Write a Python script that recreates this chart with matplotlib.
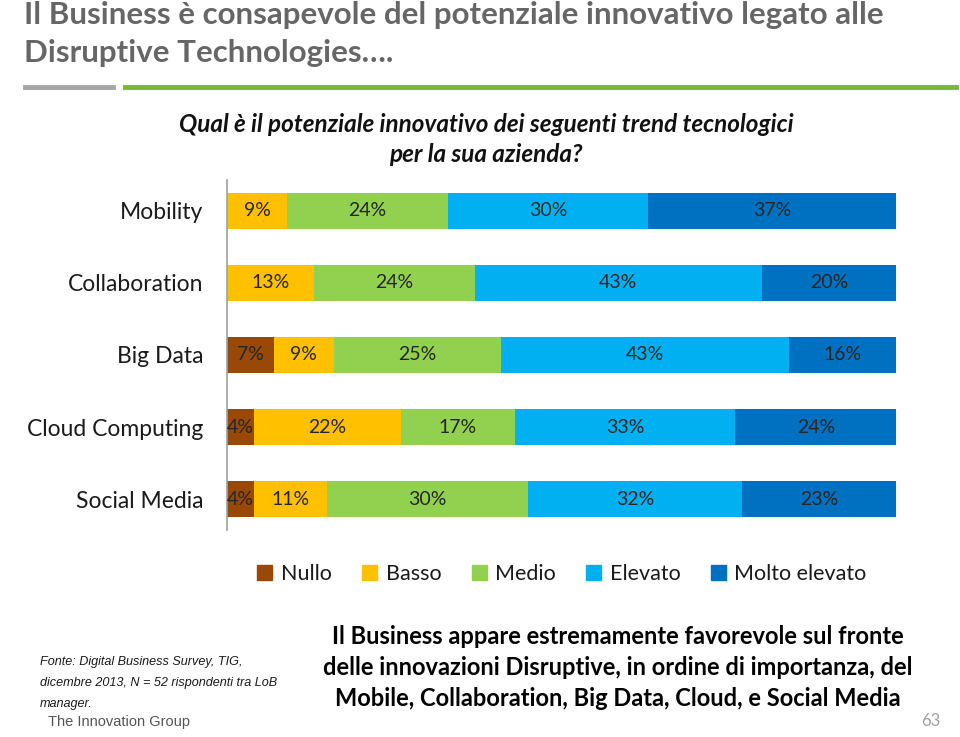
import matplotlib
matplotlib.use("Agg")
import matplotlib.pyplot as plt
import numpy as np
from matplotlib.patches import Rectangle
from matplotlib.lines import Line2D

# ============ 数据 ============
categories = ["Mobility", "Collaboration", "Big Data", "Cloud Computing", "Social Media"]
levels = ["Nullo", "Basso", "Medio", "Elevato", "Molto elevato"]
nullo = [0, 0, 7, 4, 4]
basso = [9, 13, 9, 22, 11]
medio = [24, 24, 25, 17, 30]
elevato = [30, 43, 43, 33, 32]
molto = [37, 20, 16, 24, 23]
colors = ["#984807", "#FFC000", "#92D050", "#00B0F0", "#0070C0"]

FONT = ["Lato", "DejaVu Sans"]
plt.rcParams["font.family"] = FONT

W, H = 960, 737
fig = plt.figure(figsize=(W / 100, H / 100), dpi=100)


def fx(px):
    return px / W


def fy(py):
    return 1 - py / H


# ============ 标题 ============
fig.text(fx(24), fy(15), "Il Business è consapevole del potenziale innovativo legato alle",
         fontsize=22.5, fontweight="bold", color="#666666", va="center", ha="left")
fig.text(fx(24), fy(53), "Disruptive Technologies….",
         fontsize=22.5, fontweight="bold", color="#666666", va="center", ha="left")
fig.add_artist(Line2D([fx(25), fx(113)], [fy(87), fy(87)], color="#A6A6A6", lw=3.5))
fig.add_artist(Line2D([fx(125), fx(956)], [fy(87), fy(87)], color="#7AB929", lw=3.5))

fig.text(fx(486), fy(124), "Qual è il potenziale innovativo dei seguenti trend tecnologici",
         fontsize=17.5, fontweight="bold", style="italic", color="#111111", ha="center", va="center")
fig.text(fx(486), fy(155), "per la sua azienda?",
         fontsize=17.5, fontweight="bold", style="italic", color="#111111", ha="center", va="center")

# ============ 堆叠条形图 ============
ax = fig.add_axes([fx(227), fy(530), fx(896) - fx(227), (530 - 180) / H])
series = [nullo, basso, medio, elevato, molto]
y = np.arange(len(categories))
left = np.zeros(len(categories))
for vals, c in zip(series, colors):
    vals = np.array(vals, dtype=float)
    ax.barh(y, vals, left=left, height=0.51, color=c, edgecolor="none")
    for yi, (l, v) in enumerate(zip(left, vals)):
        if v > 0:
            ax.text(l + v / 2, yi, f"{int(v)}%", ha="center", va="center",
                    fontsize=14, color="#262626")
    left += vals

ax.set_xlim(0, 100)
ax.set_ylim(4.43, -0.43)
ax.set_yticks(y)
ax.set_yticklabels(categories, fontsize=16.5, color="#1a1a1a")
ax.tick_params(axis="y", length=0, pad=17)
ax.set_xticks([])
for s in ["top", "right", "bottom"]:
    ax.spines[s].set_visible(False)
ax.spines["left"].set_color("#A0A0A0")
ax.spines["left"].set_linewidth(1.2)

# ============ 图例 ============
handles = [Rectangle((0, 0), 1, 1, color=c) for c in colors]
fig.legend(handles, levels, loc="center", bbox_to_anchor=(fx(562), fy(574)), ncol=5,
           frameon=False, fontsize=15.5, handlelength=0.7, handleheight=0.7,
           handletextpad=0.4, columnspacing=1.4, labelcolor="#1a1a1a")

# ============ 底部文字 ============
foot = ["Fonte: Digital Business Survey, TIG,",
        "dicembre 2013, N = 52 rispondenti tra LoB",
        "manager."]
for i, t in enumerate(foot):
    fig.text(fx(40), fy(662 + i * 21), t, fontsize=9.1, style="italic",
             family=["Liberation Sans", "DejaVu Sans"], color="#1a1a1a", va="center")

concl = ["Il Business appare estremamente favorevole sul fronte",
         "delle innovazioni Disruptive, in ordine di importanza, del",
         "Mobile, Collaboration, Big Data, Cloud, e Social Media"]
for i, t in enumerate(concl):
    fig.text(fx(618), fy(637 + i * 30.5), t, fontsize=17, fontweight="bold",
             color="#000000", ha="center", va="center")

fig.text(fx(48), fy(722), "The Innovation Group", fontsize=10.5,
         family=["Liberation Sans", "DejaVu Sans"], color="#555555", va="center")
fig.text(fx(940), fy(721), "63", fontsize=12, color="#A0A0A0", ha="right", va="center")

fig.savefig("out.png", dpi=100, facecolor="white")
